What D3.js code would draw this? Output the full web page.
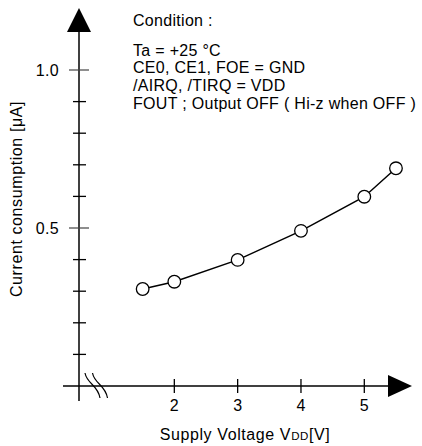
<!DOCTYPE html>
<html>
<head>
<meta charset="utf-8">
<script src="https://cdn.jsdelivr.net/npm/d3@7"></script>
<style>
    body { margin: 0; background: #fff; }
    svg text { font-family: "Liberation Sans", Arial, sans-serif; fill: #000; }
</style>
</head>
<body>
<div id="chart"></div>
<script>
// supply voltage [V] and current consumption [uA]
var voltages = [1.5, 2, 3, 4, 5, 5.5];
var currents = [0.307, 0.330, 0.399, 0.491, 0.599, 0.689];
var xTickValues = [2, 3, 4, 5];
var yMinorTicks = [0.1, 0.2, 0.3, 0.4, 0.6, 0.7, 0.8, 0.9];
var yMajorTicks = [0.5, 1.0];
var conditionLines = [
    "Ta = +25 \u00B0C",
    "CE0, CE1, FOE = GND",
    "/AIRQ, /TIRQ = VDD",
    "FOUT ; Output OFF ( Hi-z when OFF )"
];

var width = 422, height = 446;
var axisX = 79, axisY = 386;

var svg = d3.select("#chart").append("svg")
    .attr("width", width)
    .attr("height", height);

var x = d3.scaleLinear().domain([1, 5]).range([111, 364.3]);
var y = d3.scaleLinear().domain([0, 1]).range([axisY, 70]);

var ls = "0.3px";

// axes lines
svg.append("line")
    .attr("x1", axisX).attr("x2", axisX)
    .attr("y1", 30).attr("y2", 401)
    .attr("stroke", "#000").attr("stroke-width", 1.5);
svg.append("line")
    .attr("x1", 63).attr("x2", 390)
    .attr("y1", axisY).attr("y2", axisY)
    .attr("stroke", "#000").attr("stroke-width", 1.5);

// arrow heads
svg.append("path")
    .attr("d", "M" + axisX + ",8 L" + (axisX - 12) + ",32 L" + (axisX + 12) + ",32 Z")
    .attr("fill", "#000");
svg.append("path")
    .attr("d", "M412," + axisY + " L388," + (axisY - 11) + " L388," + (axisY + 11) + " Z")
    .attr("fill", "#000");

// y ticks
svg.selectAll("line.ymin")
    .data(yMinorTicks)
    .enter()
    .append("line")
    .attr("class", "ymin")
    .attr("x1", axisX - 6).attr("x2", axisX + 7)
    .attr("y1", function(d){ return y(d); })
    .attr("y2", function(d){ return y(d); })
    .attr("stroke", "#000").attr("stroke-width", 1.3);
svg.selectAll("line.ymaj")
    .data(yMajorTicks)
    .enter()
    .append("line")
    .attr("class", "ymaj")
    .attr("x1", axisX - 10).attr("x2", axisX + 10)
    .attr("y1", function(d){ return y(d); })
    .attr("y2", function(d){ return y(d); })
    .attr("stroke", "#444").attr("stroke-width", 1.2);
svg.selectAll("text.ylab")
    .data(yMajorTicks)
    .enter()
    .append("text")
    .attr("class", "ylab")
    .attr("x", 59)
    .attr("y", function(d){ return y(d) + 5.8; })
    .attr("text-anchor", "end")
    .style("font-size", "16px")
    .style("letter-spacing", ls)
    .text(function(d){ return d3.format(".1f")(d); });

// x ticks
svg.selectAll("line.xt")
    .data(xTickValues)
    .enter()
    .append("line")
    .attr("class", "xt")
    .attr("x1", function(d){ return x(d); })
    .attr("x2", function(d){ return x(d); })
    .attr("y1", axisY - 7).attr("y2", axisY + 7)
    .attr("stroke", "#000").attr("stroke-width", 1.3);
svg.selectAll("text.xlab")
    .data(xTickValues)
    .enter()
    .append("text")
    .attr("class", "xlab")
    .attr("x", function(d){ return x(d); })
    .attr("y", 410.5)
    .attr("text-anchor", "middle")
    .style("font-size", "16px")
    .text(function(d){ return d; });

// axis break marks
[85, 92.5].forEach(function(bx){
    svg.append("path")
        .attr("d", "M" + bx + ",373 C" + (bx + 2) + ",384 " + (bx + 13) + ",385 " + (bx + 15) + ",398")
        .attr("fill", "none")
        .attr("stroke", "#000")
        .attr("stroke-width", 1.2);
});

// data line and markers
var line = d3.line()
    .x(function(d, i){ return x(voltages[i]); })
    .y(function(d){ return y(d); });
svg.append("path")
    .datum(currents)
    .attr("d", line)
    .attr("fill", "none")
    .attr("stroke", "#000")
    .attr("stroke-width", 1.5);
svg.selectAll("circle.pt")
    .data(currents)
    .enter()
    .append("circle")
    .attr("class", "pt")
    .attr("cx", function(d, i){ return x(voltages[i]); })
    .attr("cy", function(d){ return y(d); })
    .attr("r", 6.3)
    .attr("fill", "#fff")
    .attr("stroke", "#000")
    .attr("stroke-width", 1.3);

// condition text
svg.append("text")
    .attr("x", 133).attr("y", 25.7)
    .style("font-size", "16px")
    .style("letter-spacing", ls)
    .text("Condition :");
svg.selectAll("text.cond")
    .data(conditionLines)
    .enter()
    .append("text")
    .attr("class", "cond")
    .attr("x", 133)
    .attr("y", function(d, i){ return 55.5 + i * 17.7; })
    .style("font-size", "16px")
    .style("letter-spacing", ls)
    .text(function(d){ return d; });

// x axis title
var xt = svg.append("text")
    .attr("x", 245).attr("y", 440)
    .attr("text-anchor", "middle")
    .style("font-size", "16px")
    .style("letter-spacing", "0.6px");
xt.append("tspan").text("Supply Voltage V");
xt.append("tspan").style("font-size", "11.5px").text("DD");
xt.append("tspan").text("[V]");

// y axis title
svg.append("text")
    .attr("transform", "translate(21.7,199) rotate(-90)")
    .attr("text-anchor", "middle")
    .style("font-size", "16px")
    .style("letter-spacing", "0.6px")
    .text("Current consumption [\u03BCA]");
</script>
</body>
</html>
